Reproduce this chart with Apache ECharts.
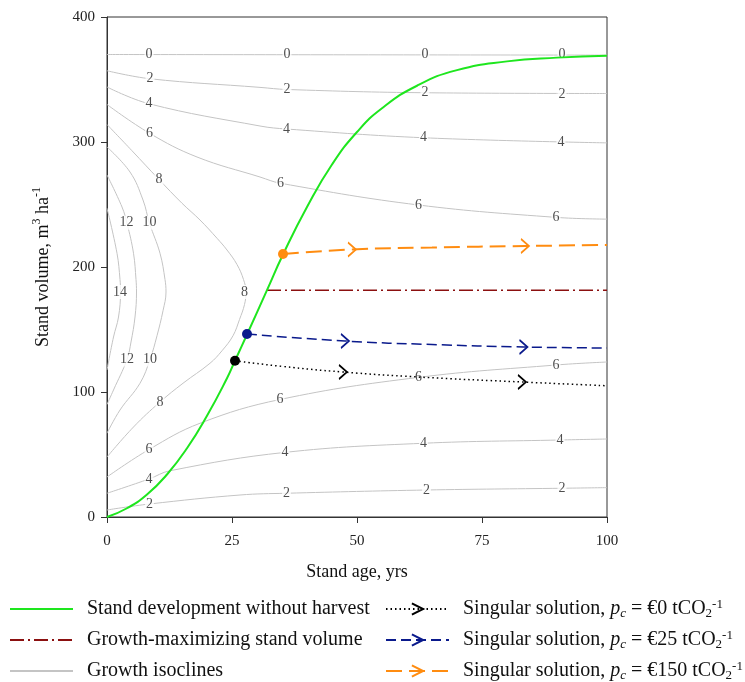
<!DOCTYPE html>
<html>
<head>
<meta charset="utf-8">
<script src="https://cdn.jsdelivr.net/npm/echarts@6/dist/echarts.min.js"></script>
<style>
  html, body { margin: 0; padding: 0; background: #fff; }
  #chart { width: 745px; height: 682px; }
</style>
</head>
<body>
<div id="chart"></div>
<script>
// stand age (yrs) / stand volume (m3/ha)
const xTicks = [0, 25, 50, 75, 100]
const yTicks = [0, 100, 200, 300, 400]

const noHarvest = [
  [0, 0], [4, 7], [8, 18], [12, 34], [16, 55], [20, 81], [24, 111],
  [25.6, 125], [28, 146], [32, 181.5], [35.2, 210], [40, 248], [45, 282],
  [50, 308], [55, 327], [62, 345], [70, 357.5], [80, 364.5], [90, 367.5], [100, 369]
]
const growthMax = [[32, 181.5], [100, 181.5]]

// isoclines, one array per curve
const iso0 = [[0, 370], [100, 369.5]]
const iso2a = [[0, 357], [8.6, 350.6], [30.6, 343.7], [36, 342], [63.6, 339.4], [100, 338.8]]
const iso4a = [[0, 344], [8.4, 330.6], [30.6, 312.8], [35.9, 310.4], [63.3, 303.4], [100, 299.3]]
const iso6a = [[0, 330], [8.5, 307], [18, 288], [30.6, 272], [34.7, 267], [62.3, 249.6], [89.8, 239.7], [100, 238.3]]
const iso8 = [
  [0, 314], [5, 293], [10.4, 270], [15, 251], [18.6, 237.6], [22, 223], [24, 213.6],
  [26, 202], [27.3, 190], [27.8, 180], [27.5, 170], [26.5, 158], [25.2, 145],
  [23, 133], [20.6, 123], [15.2, 107], [10.6, 92], [5.3, 72], [0, 48]
]
const iso10 = [
  [0, 296], [4.6, 276], [7.2, 253.6], [8.5, 235], [10.6, 211], [11.6, 190], [11.8, 180],
  [11.2, 165], [10, 145], [8.6, 126], [6.6, 107], [2.6, 85.6], [0, 67]
]
const iso12 = [
  [0, 273.6], [3, 248], [4, 235], [5.3, 211], [5.8, 190], [5.9, 180], [5.6, 160],
  [4.8, 140], [4, 126], [1.3, 101.6], [0, 90]
]
const iso14 = [[0, 247], [2, 211], [2.6, 190], [2.7, 180], [2.3, 160], [1.3, 144], [0, 117.6]]
const iso6b = [[0, 32], [8.4, 54], [18.6, 75], [34.6, 94], [62.3, 111.7], [89.8, 121.6], [100, 124]]
const iso4b = [[0, 19], [8.4, 30.4], [12.6, 37], [35.6, 51.7], [63.3, 59], [90.6, 61.6], [100, 62.4]]
const iso2b = [[0, 5.6], [8.5, 10.4], [26.6, 17.6], [35.9, 19], [63.9, 21.6], [91, 23], [100, 23.5]]
const isoclines = [iso0, iso2a, iso4a, iso6a, iso8, iso10, iso12, iso14, iso6b, iso4b, iso2b]

// isocline labels [age, volume, text]
const isoLabels = [
  [8.4, 370, '0'], [36, 370, '0'], [63.6, 370, '0'], [91, 370, '0'],
  [8.6, 350.6, '2'], [36, 342, '2'], [63.6, 339.4, '2'], [91, 338, '2'],
  [8.4, 330.6, '4'], [35.9, 310.4, '4'], [63.3, 303.4, '4'], [90.8, 299.7, '4'],
  [8.5, 307, '6'], [34.7, 267, '6'], [62.3, 249.6, '6'], [89.8, 239.7, '6'],
  [10.4, 270, '8'], [27.5, 180, '8'], [10.6, 92, '8'],
  [8.5, 235.4, '10'], [8.6, 126, '10'],
  [3.9, 235.4, '12'], [4, 126, '12'],
  [2.6, 180, '14'],
  [8.4, 54, '6'], [34.6, 94, '6'], [62.3, 111.7, '6'], [89.8, 121.6, '6'],
  [8.4, 30.4, '4'], [35.6, 51.7, '4'], [63.3, 59, '4'], [90.6, 61.6, '4'],
  [8.5, 10.4, '2'], [35.9, 19, '2'], [63.9, 21.6, '2'], [91, 23, '2']
]

// singular solutions: path points and where the arrows sit (index)
const sing0 = [[25.6, 125], [35, 120.5], [47.2, 116], [62.2, 112], [83, 108], [100, 105]]
const sing25 = [[28, 146.4], [47.6, 140.8], [65, 138], [83.3, 136], [100, 135.2]]
const sing150 = [[35.2, 210.4], [49, 214], [65, 215.6], [83.6, 216.8], [100, 217.6]]
const arrows0 = [2, 4]
const arrows25 = [1, 3]
const arrows150 = [1, 3]

const FONT = 'Liberation Serif'
const chevron = 'path://M0,0L7,6.5L0,13'

const chart = echarts.init(document.getElementById('chart'))

const singSeries = (name, pts, arrowIdx, color, lineType, width) => ({
  name,
  type: 'line',
  smooth: true,
  symbol: chevron,
  symbolSize: [8, 14],
  itemStyle: { color: 'none', borderColor: color, borderWidth: 1.5 },
  lineStyle: { color, type: lineType, width },
  z: 5,
  data: pts.map((p, i) => {
    if (i === 0) {
      return { value: p, symbol: 'circle', symbolSize: 10, itemStyle: { color, borderWidth: 0 } }
    }
    if (arrowIdx.includes(i)) return { value: p }
    return { value: p, symbol: 'none' }
  })
})

const rich = {
  i: { fontFamily: FONT, fontSize: 20, fontStyle: 'italic', color: '#111' },
  ic: { fontFamily: FONT, fontSize: 13, fontStyle: 'italic', color: '#111', verticalAlign: 'bottom', lineHeight: 12 },
  sub: { fontFamily: FONT, fontSize: 13, color: '#111', verticalAlign: 'bottom', lineHeight: 12 },
  sup: { fontFamily: FONT, fontSize: 13, color: '#111', verticalAlign: 'top', lineHeight: 12 }
}

const legendNames = {
  'Singular solution, pc = €0 tCO2-1': 'Singular solution, {i|p}{ic|c} = €0 tCO{sub|2}{sup|-1}',
  'Singular solution, pc = €25 tCO2-1': 'Singular solution, {i|p}{ic|c} = €25 tCO{sub|2}{sup|-1}',
  'Singular solution, pc = €150 tCO2-1': 'Singular solution, {i|p}{ic|c} = €150 tCO{sub|2}{sup|-1}'
}

const legendBase = {
  orient: 'vertical',
  top: 598,
  height: 84,
  padding: 0,
  itemWidth: 63,
  itemHeight: 14,
  itemGap: 9,
  selectedMode: false,
  formatter: n => legendNames[n] || n,
  textStyle: {
    fontFamily: FONT, fontSize: 20, color: '#111', lineHeight: 22,
    padding: [0, 0, 0, 9], rich
  }
}

const plainIcon = { itemStyle: { opacity: 0 } }

const option = {
  animation: false,
  grid: {
    left: 107, right: 138, top: 17, bottom: 165,
    show: true, borderColor: '#333', borderWidth: 1
  },
  legend: [
    Object.assign({}, legendBase, {
      left: 9,
      data: [
        Object.assign({ name: 'Stand development without harvest' }, plainIcon),
        Object.assign({ name: 'Growth-maximizing stand volume' }, plainIcon),
        Object.assign({ name: 'Growth isoclines' }, plainIcon)
      ]
    }),
    Object.assign({}, legendBase, {
      left: 385,
      data: Object.keys(legendNames)
    })
  ],
  xAxis: {
    type: 'value', min: xTicks[0], max: xTicks[xTicks.length - 1], interval: 25,
    name: 'Stand age, yrs', nameLocation: 'middle', nameGap: 46,
    nameTextStyle: { fontFamily: FONT, fontSize: 18, color: '#111' },
    axisLine: { lineStyle: { color: '#333', width: 1 } },
    axisTick: { length: 6, lineStyle: { color: '#333' } },
    axisLabel: { fontFamily: FONT, fontSize: 15, color: '#222', margin: 17 },
    splitLine: { show: false }
  },
  yAxis: {
    type: 'value', min: yTicks[0], max: yTicks[yTicks.length - 1], interval: 100,
    name: 'Stand volume, m{sup|3} ha{sup|-1}', nameLocation: 'middle', nameGap: 52,
    nameTextStyle: {
      fontFamily: FONT, fontSize: 18, color: '#111', lineHeight: 24,
      rich: {
        sup: { fontFamily: FONT, fontSize: 12, color: '#111', verticalAlign: 'top', lineHeight: 12 }
      }
    },
    axisLine: { lineStyle: { color: '#333', width: 1 } },
    axisTick: { length: 6, lineStyle: { color: '#333' } },
    axisLabel: { fontFamily: FONT, fontSize: 15, color: '#222', margin: 12 },
    splitLine: { show: false }
  },
  series: [
    ...isoclines.map(d => ({
      name: 'Growth isoclines',
      type: 'line',
      smooth: 0.4,
      symbol: 'none',
      silent: true,
      lineStyle: { color: '#c4c4c4', width: 1 },
      itemStyle: { color: '#aaaaaa' },
      z: 1,
      data: d
    })),
    {
      type: 'scatter',
      symbolSize: 1,
      silent: true,
      itemStyle: { color: 'rgba(0,0,0,0)' },
      z: 2,
      label: {
        show: true, position: 'inside',
        formatter: p => p.value[2],
        fontFamily: FONT, fontSize: 14, color: '#222',
        backgroundColor: '#fff', padding: [0, 1]
      },
      data: isoLabels
    },
    {
      name: 'Growth-maximizing stand volume',
      type: 'line',
      symbol: 'none',
      lineStyle: { color: '#8b1010', width: 1.5, type: [14, 4, 2, 4] },
      itemStyle: { color: '#8b1010' },
      z: 3,
      data: growthMax
    },
    {
      name: 'Stand development without harvest',
      type: 'line',
      smooth: 0.5,
      symbol: 'none',
      lineStyle: { color: '#1ee61e', width: 2 },
      itemStyle: { color: '#1ee61e' },
      z: 4,
      data: noHarvest
    },
    singSeries('Singular solution, pc = €0 tCO2-1', sing0, arrows0, '#000', [1.5, 3], 1.5),
    singSeries('Singular solution, pc = €25 tCO2-1', sing25, arrows25, '#0a1a8c', [10, 5], 1.5),
    singSeries('Singular solution, pc = €150 tCO2-1', sing150, arrows150, '#ff8c10', [16, 7], 2)
  ]
}

chart.setOption(option)
window.addEventListener('resize', () => chart.resize())
</script>
</body>
</html>
